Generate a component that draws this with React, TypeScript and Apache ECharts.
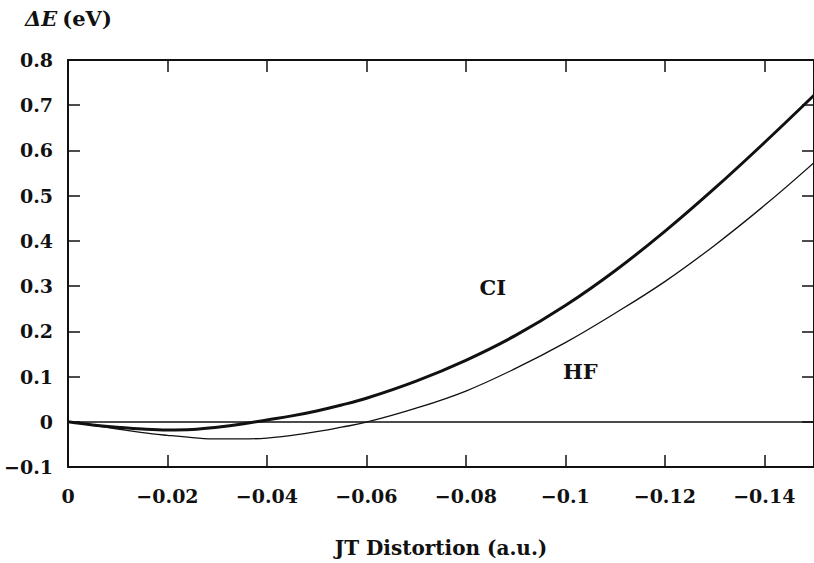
import React, { useEffect, useRef } from "react";
import * as echarts from "echarts";

const xValues = [0, -0.005, -0.01, -0.015, -0.02, -0.025, -0.03, -0.035, -0.04, -0.045, -0.05, -0.055, -0.06, -0.07, -0.08, -0.09, -0.1, -0.11, -0.12, -0.13, -0.14, -0.15];
const ciValues = [0, -0.007, -0.012, -0.016, -0.018, -0.017, -0.012, -0.005, 0.004, 0.013, 0.024, 0.037, 0.052, 0.09, 0.136, 0.191, 0.257, 0.334, 0.421, 0.516, 0.617, 0.722];
const hfValues = [0, -0.008, -0.016, -0.024, -0.03, -0.035, -0.038, -0.038, -0.036, -0.03, -0.022, -0.012, -0.001, 0.03, 0.068, 0.118, 0.175, 0.24, 0.31, 0.39, 0.478, 0.573];
const curveLabels = [
  { name: "CI", x: -0.0854, y: 0.297 },
  { name: "HF", x: -0.103, y: 0.112 },
];
const xName = "JT Distortion (a.u.)";
const yNameRich = "{i|ΔE} {n|(eV)}";

const FONT = "DejaVu Serif";
const INK = "#111";

const fmt = (v: number) => {
  const r = parseFloat(v.toFixed(3));
  if (r === 0) return "0";
  return String(r).replace("-", "\u2212");
};

export default function App() {
  const ref = useRef<HTMLDivElement>(null);
  useEffect(() => {
    if (!ref.current) return;
    const chart = echarts.init(ref.current, undefined, { renderer: "svg" });
    const axisCommon = {
      type: "value" as const,
      axisLine: { show: true, onZero: false, lineStyle: { color: INK, width: 2 } },
      axisTick: { show: true, inside: true, length: 12, lineStyle: { color: INK, width: 1.5 } },
      splitLine: { show: false },
    };
    const xCommon = {
      ...axisCommon,
      min: -0.15,
      max: 0,
      inverse: true,
      splitNumber: 7,
      minInterval: 0.02,
      maxInterval: 0.02,
    };
    const yCommon = {
      ...axisCommon,
      min: -0.1,
      max: 0.8,
      interval: 0.1,
    };
    chart.setOption({
      animation: false,
      backgroundColor: "#fff",
      title: {
        text: yNameRich,
        left: 20,
        top: 3,
        textStyle: {
          rich: {
            i: { fontFamily: FONT, fontStyle: "italic", fontWeight: "bold", fontSize: 21, color: INK },
            n: { fontFamily: FONT, fontWeight: "bold", fontSize: 21, color: INK },
          },
        },
      },
      grid: { left: 68, top: 60, width: 750, height: 408, containLabel: false },
      xAxis: [
        {
          ...xCommon,
          position: "bottom",
          name: xName,
          nameLocation: "middle",
          nameGap: 71,
          nameTextStyle: { fontFamily: FONT, fontSize: 20, fontWeight: "bold", color: INK },
          axisLabel: {
            show: true,
            showMinLabel: false,
            margin: 19,
            fontFamily: FONT,
            fontWeight: "bold",
            fontSize: 19,
            color: INK,
            formatter: fmt,
          },
        },
        {
          ...xCommon,
          position: "top",
          axisLabel: { show: false },
        },
      ],
      yAxis: [
        {
          ...yCommon,
          position: "left",
          axisLabel: {
            show: true,
            margin: 15,
            fontFamily: FONT,
            fontWeight: "bold",
            fontSize: 19,
            color: INK,
            formatter: fmt,
          },
        },
        {
          ...yCommon,
          position: "right",
          axisLabel: { show: false },
        },
      ],
      series: [
        {
          name: "CI",
          type: "line",
          smooth: 0.4,
          showSymbol: false,
          data: xValues.map((x, i) => [x, ciValues[i]]),
          lineStyle: { color: INK, width: 3 },
          markLine: {
            silent: true,
            symbol: "none",
            label: { show: false },
            lineStyle: { color: INK, width: 1.5, type: "solid" },
            data: [{ yAxis: 0 }],
          },
          markPoint: {
            symbolSize: 0,
            label: {
              show: true,
              formatter: "{b}",
              fontFamily: FONT,
              fontWeight: "bold",
              fontSize: 21,
              color: INK,
            },
            data: curveLabels.map((l) => ({ name: l.name, coord: [l.x, l.y] })),
          },
        },
        {
          name: "HF",
          type: "line",
          smooth: 0.4,
          showSymbol: false,
          data: xValues.map((x, i) => [x, hfValues[i]]),
          lineStyle: { color: INK, width: 1.3 },
        },
      ],
    });
    return () => chart.dispose();
  }, []);
  return (
    <div
      ref={ref}
      style={{ position: "fixed", left: 0, top: 0, width: 814, height: 563, background: "#fff" }}
    />
  );
}
